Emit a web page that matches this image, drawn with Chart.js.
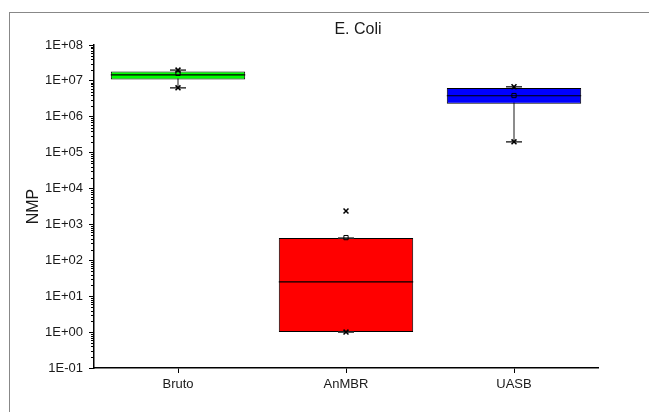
<!DOCTYPE html>
<html>
<head>
<meta charset="utf-8">
<script src="https://cdn.jsdelivr.net/npm/chart.js@4.4.1/dist/chart.umd.min.js"></script>
<style>
body{margin:0;background:#fff;}
#wrap{position:relative;width:649px;height:412px;overflow:hidden;}
#frame{position:absolute;left:9px;top:12px;width:700px;height:500px;border:1.5px solid #888;}
canvas{position:absolute;left:0;top:0;}
</style>
</head>
<body>
<div id="wrap"><div id="frame"></div><canvas id="ecoli" width="649" height="412"></canvas></div>
<script>
// data
var chartTitle = "E. Coli";
var yTitle = "NMP";
var categories = ["Bruto", "AnMBR", "UASB"];
var q1 = [1.1e7, 1, 2.3e6];
var q3 = [1.84e7, 418, 6.3e6];
var medians = [1.48e7, 25, 3.85e6];
var means = [1.62e7, 430, 3.9e6];
var whiskerLow = [6.4e6, 1, 2.0e5];
var whiskerHigh = [2.0e7, 418, 6.85e6];
var minMarks = [6.4e6, 1, 2.0e5];
var maxMarks = [2.0e7, 2360, 6.85e6];
var tickLabels = ["1E-01", "1E+00", "1E+01", "1E+02", "1E+03", "1E+04", "1E+05", "1E+06", "1E+07", "1E+08"];
var boxColors = ["#00ff00", "#ff0000", "#0000ff"];

var fontFam = '"Liberation Sans", Arial, sans-serif';

function isMajor(v){
  var l = Math.log10(v);
  return Math.abs(l - Math.round(l)) < 1e-9;
}

var boxExtras = {
  id: "boxExtras",
  beforeDatasetsDraw: function(chart){
    var ctx = chart.ctx, y = chart.scales.y;
    var bars = chart.getDatasetMeta(0).data;
    ctx.save();
    ctx.strokeStyle = "#666";
    ctx.lineWidth = 1.5;
    bars.forEach(function(bar, i){
      ctx.beginPath();
      ctx.moveTo(bar.x, y.getPixelForValue(whiskerLow[i]));
      ctx.lineTo(bar.x, y.getPixelForValue(whiskerHigh[i]));
      ctx.stroke();
    });
    ctx.restore();
  },
  afterDatasetDraw: function(chart, args){
    if (args.index !== 0) return;
    var ctx = chart.ctx, y = chart.scales.y;
    var bars = chart.getDatasetMeta(0).data;
    ctx.save();
    bars.forEach(function(bar, i){
      // median
      var py = y.getPixelForValue(medians[i]);
      ctx.strokeStyle = "#000";
      ctx.lineWidth = 1.2;
      ctx.beginPath();
      ctx.moveTo(bar.x - bar.width / 2, py);
      ctx.lineTo(bar.x + bar.width / 2, py);
      ctx.stroke();
      // caps
      ctx.strokeStyle = "#333";
      ctx.lineWidth = 1.5;
      [whiskerLow[i], whiskerHigh[i]].forEach(function(v){
        var cy = y.getPixelForValue(v);
        ctx.beginPath();
        ctx.moveTo(bar.x - 8, cy);
        ctx.lineTo(bar.x + 8, cy);
        ctx.stroke();
      });
    });
    ctx.restore();
  },
  afterDraw: function(chart){
    var ctx = chart.ctx, y = chart.scales.y, area = chart.chartArea;
    ctx.save();
    // minor ticks
    ctx.strokeStyle = "#000";
    ctx.lineWidth = 1;
    for (var k = -1; k < 8; k++) {
      for (var m = 2; m <= 9; m++) {
        var py = Math.round(y.getPixelForValue(m * Math.pow(10, k))) + 0.5;
        ctx.beginPath();
        ctx.moveTo(area.left - 3, py);
        ctx.lineTo(area.left, py);
        ctx.stroke();
      }
    }
    // title
    ctx.fillStyle = "#1a1a1a";
    ctx.font = "16px " + fontFam;
    ctx.textAlign = "center";
    ctx.textBaseline = "alphabetic";
    ctx.fillText(chartTitle, (area.left + area.right) / 2 + 12, 34);
    ctx.restore();
  }
};

new Chart("ecoli", {
  type: "bar",
  data: {
    labels: categories,
    datasets: [{
      type: "bar",
      order: 2,
      data: categories.map(function(c, i){ return [q1[i], q3[i]]; }),
      backgroundColor: boxColors,
      borderColor: "#000",
      borderWidth: 1,
      borderSkipped: false,
      barPercentage: 0.8,
      categoryPercentage: 1.0
    }, {
      type: "line",
      order: 0,
      data: maxMarks,
      showLine: false,
      pointStyle: "crossRot",
      pointRadius: 3.5,
      borderColor: "#000",
      pointBorderWidth: 1.5
    }, {
      type: "line",
      order: 0,
      data: minMarks,
      showLine: false,
      pointStyle: "crossRot",
      pointRadius: 3.5,
      borderColor: "#000",
      pointBorderWidth: 1.5
    }, {
      type: "line",
      order: 0,
      data: means,
      showLine: false,
      pointStyle: "rect",
      pointRadius: 3,
      borderColor: "#000",
      pointBackgroundColor: "rgba(0,0,0,0)",
      pointBorderWidth: 1
    }]
  },
  options: {
    responsive: false,
    animation: false,
    layout: {padding: {left: 0, top: 45, right: 51, bottom: 0}},
    plugins: {
      legend: {display: false},
      tooltip: {enabled: false},
      title: {display: false}
    },
    scales: {
      x: {
        type: "category",
        offset: true,
        border: {display: true, color: "#000", width: 1.5},
        grid: {drawOnChartArea: false, offset: false, tickLength: 5, tickColor: "#000"},
        ticks: {color: "#1a1a1a", font: {size: 13, family: fontFam}, padding: 4, maxRotation: 0},
        afterFit: function(s){ s.height = 44; }
      },
      y: {
        type: "logarithmic",
        min: 0.1,
        max: 1e8,
        border: {display: true, color: "#000", width: 1.5},
        grid: {
          drawOnChartArea: false,
          tickLength: 5,
          tickColor: function(c){ return c.tick && isMajor(c.tick.value) ? "#000" : "rgba(0,0,0,0)"; }
        },
        ticks: {
          autoSkip: false,
          color: "#1a1a1a",
          font: {size: 13, family: fontFam},
          padding: 6,
          callback: function(v){
            if (!isMajor(v)) return "";
            return tickLabels[Math.round(Math.log10(v)) + 1];
          }
        },
        title: {display: true, text: yTitle, color: "#1a1a1a", font: {size: 16, family: fontFam}, padding: {top: 24, bottom: 0}},
        afterFit: function(s){ s.width = 94; }
      }
    }
  },
  plugins: [boxExtras]
});
</script>
</body>
</html>
